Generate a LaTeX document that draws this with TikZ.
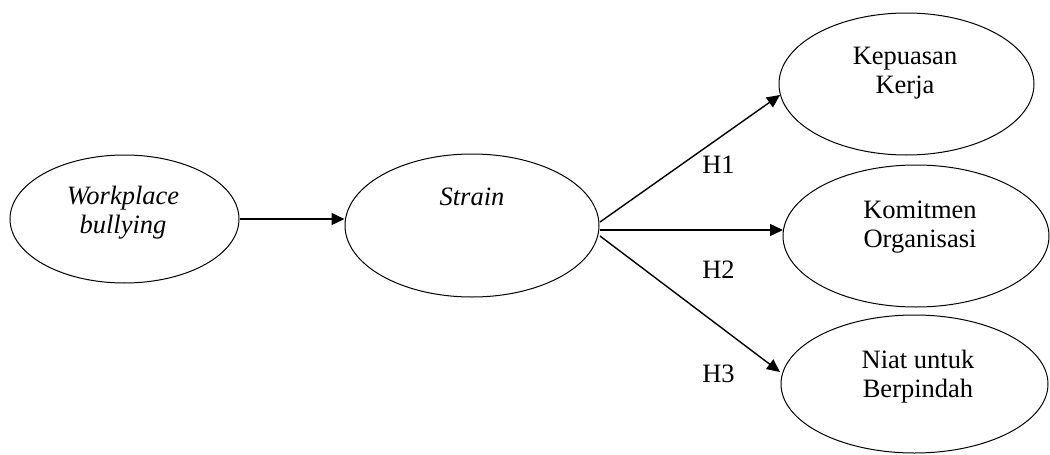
\documentclass[tikz,border=0pt]{standalone}
\usepackage{fontspec}
\setmainfont{Liberation Serif}
\usetikzlibrary{shapes.geometric,arrows.meta}

\tikzset{
  construct/.style={draw, ellipse, line width=1pt, inner sep=0pt},
  label text/.style={anchor=base, align=center, inner sep=0pt,
    font=\fontsize{26.5}{28.5}\selectfont},
  link/.style={line width=1.4pt, -{Triangle[length=13pt,width=12pt]}},
}

\begin{document}
\begin{tikzpicture}[x=1pt, y=-1pt]
  \useasboundingbox (0,0) rectangle (1050,455);

  % constructs
  \node[construct, minimum width=229pt, minimum height=128pt] (wb) at (124.5,219) {};
  \node[construct, minimum width=254pt, minimum height=143pt] (st) at (472,225.5) {};
  \node[construct, minimum width=255pt, minimum height=142pt] (kk) at (906.5,84) {};
  \node[construct, minimum width=266pt, minimum height=142pt] (ko) at (916,236) {};
  \node[construct, minimum width=267pt, minimum height=138pt] (nb) at (914.5,384) {};

  % construct names (base anchor sits on the last line)
  \node[label text] (wbt) at (123,233) {\itshape Workplace\\\itshape bullying};
  \node[label text] (stt) at (472,205) {\itshape Strain};
  \node[label text] (kkt) at (905,93) {Kepuasan\\Kerja};
  \node[label text] (kot) at (920,247) {Komitmen\\Organisasi};
  \node[label text] (nbt) at (918,397) {Niat untuk\\Berpindah};

  % hypothesis paths
  \coordinate (s1) at (600,222);
  \coordinate (s2) at (600,230);
  \coordinate (s3) at (600,236);
  \coordinate (t1) at (780,95);
  \coordinate (t2) at (783,230);
  \coordinate (t3) at (780,372);

  \draw[link] (wb.east) -- (wb.east -| st.west);
  \draw[link] (s1) -- (t1);
  \draw[link] (s2) -- (t2);
  \draw[link] (s3) -- (t3);

  \node[label text] (h1) at (718.5,173) {H1};
  \node[label text] (h2) at (718.5,278) {H2};
  \node[label text] (h3) at (718.5,382) {H3};
\end{tikzpicture}
\end{document}
